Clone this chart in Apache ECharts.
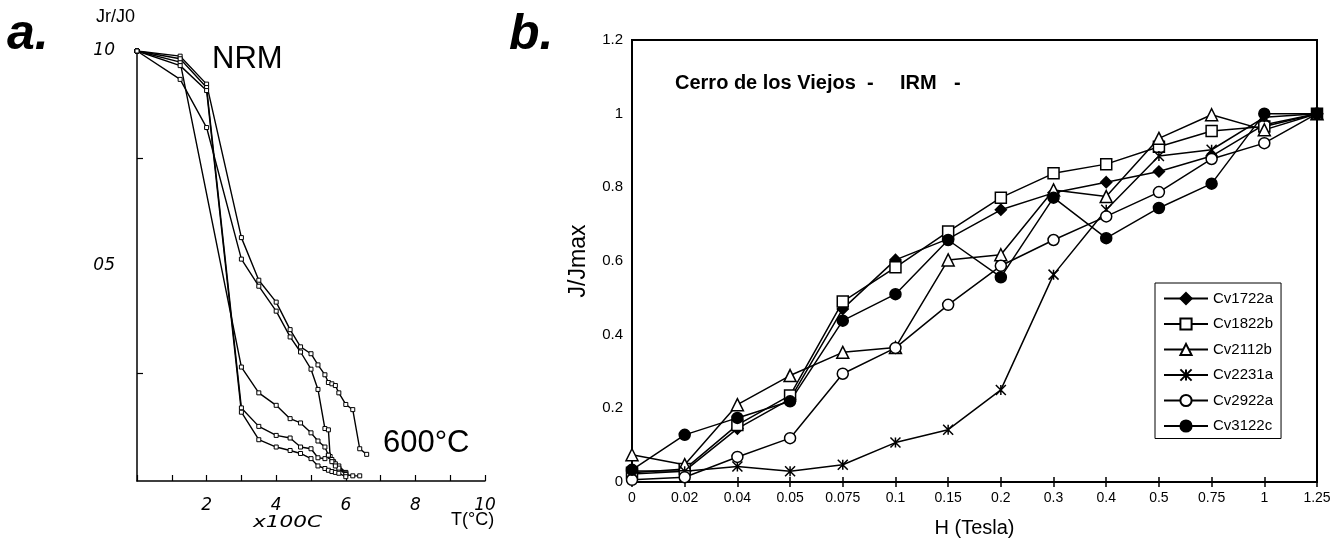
<!DOCTYPE html>
<html>
<head>
<meta charset="utf-8">
<script src="https://cdn.jsdelivr.net/npm/echarts@6/dist/echarts.min.js"></script>
<style>
html,body{margin:0;padding:0;background:#fff;}
#chart{width:1343px;height:547px;}
</style>
</head>
<body>
<div id="chart"></div>
<script>
// ---------- Panel a: thermal demagnetisation (T in x100 °C, Jr/J0) ----------
const aTempA = [0, 1.24, 2.0, 3.0, 3.5, 4.0, 4.4, 4.7, 5.0, 5.2, 5.4, 5.5, 5.6, 5.7, 5.8, 6.0, 6.2, 6.4, 6.6];
const aValA  = [1, 0.988, 0.923, 0.566, 0.467, 0.416, 0.352, 0.312, 0.296, 0.27, 0.247, 0.229, 0.226, 0.222, 0.205, 0.178, 0.166, 0.075, 0.062];
const aTempB = [0, 1.24, 2.0, 3.0, 3.5, 4.0, 4.4, 4.7, 5.0, 5.2, 5.4, 5.5, 5.55, 5.65, 5.8, 6.0];
const aValB  = [1, 0.934, 0.822, 0.516, 0.453, 0.395, 0.335, 0.30, 0.26, 0.213, 0.122, 0.119, 0.057, 0.045, 0.035, 0.02];
const aTempC = [0, 1.24, 3.0, 3.5, 4.0, 4.4, 4.7, 5.0, 5.2, 5.4, 5.5, 5.6, 5.7, 5.8, 6.0];
const aValC  = [1, 0.974, 0.265, 0.205, 0.176, 0.145, 0.135, 0.112, 0.093, 0.079, 0.06, 0.05, 0.04, 0.03, 0.018];
const aTempD = [0, 1.24, 2.0, 3.0, 3.5, 4.0, 4.4, 4.7, 5.0, 5.2, 5.4, 5.5, 5.6, 5.7, 6.0, 6.2, 6.4];
const aValD  = [1, 0.982, 0.915, 0.17, 0.127, 0.106, 0.10, 0.079, 0.075, 0.054, 0.052, 0.06, 0.045, 0.035, 0.015, 0.012, 0.012];
const aTempE = [0, 1.24, 2.0, 3.0, 3.5, 4.0, 4.4, 4.7, 5.0, 5.2, 5.4, 5.5, 5.6, 5.7, 5.8, 6.0];
const aValE  = [1, 0.966, 0.908, 0.16, 0.096, 0.079, 0.071, 0.064, 0.052, 0.035, 0.029, 0.025, 0.022, 0.02, 0.018, 0.01];

// ---------- Panel b: IRM acquisition ----------
const fields = ['0', '0.02', '0.04', '0.05', '0.075', '0.1', '0.15', '0.2', '0.3', '0.4', '0.5', '0.75', '1', '1.25'];
const cv1722a = [0.03, 0.03, 0.145, 0.225, 0.47, 0.603, 0.66, 0.739, 0.785, 0.814, 0.843, 0.885, 0.97, 1];
const cv1822b = [0.025, 0.035, 0.155, 0.235, 0.49, 0.583, 0.68, 0.772, 0.838, 0.863, 0.91, 0.953, 0.965, 1];
const cv2112b = [0.074, 0.047, 0.21, 0.289, 0.352, 0.365, 0.603, 0.617, 0.793, 0.775, 0.933, 0.997, 0.956, 1];
const cv2231a = [0.022, 0.029, 0.042, 0.029, 0.047, 0.107, 0.142, 0.25, 0.563, 0.739, 0.885, 0.902, 0.99, 1];
const cv2922a = [0.006, 0.013, 0.068, 0.119, 0.294, 0.364, 0.481, 0.587, 0.657, 0.721, 0.787, 0.877, 0.92, 1];
const cv3122c = [0.033, 0.128, 0.174, 0.219, 0.438, 0.51, 0.657, 0.556, 0.772, 0.662, 0.744, 0.81, 1.0, 1.0];
const yTicksB = [0, 0.2, 0.4, 0.6, 0.8, 1, 1.2];

const zip = (xs, ys) => xs.map((x, i) => [x, ys[i]]);
const FONT = '"Liberation Sans", Arial, sans-serif';
const ITAL = '"DejaVu Sans", sans-serif';

function aSeries(xs, ys) {
  return {
    type: 'line', xAxisIndex: 0, yAxisIndex: 0, data: zip(xs, ys),
    symbol: 'rect', symbolSize: 4, showSymbol: true,
    lineStyle: { color: '#000', width: 1.4 },
    itemStyle: { color: '#fff', borderColor: '#000', borderWidth: 1 },
    animation: false, silent: true
  };
}
const starPath = 'path://M0,0L10,10M10,0L0,10M5,0L5,10';
function bSeries(name, data, symbol, size, filled) {
  return {
    name, type: 'line', xAxisIndex: 1, yAxisIndex: 1, data,
    symbol, symbolSize: size, showSymbol: true,
    lineStyle: { color: '#000', width: 1.5 },
    itemStyle: { color: filled ? '#000' : '#fff', borderColor: '#000', borderWidth: 1.5 },
    animation: false
  };
}
const titleFont = 'bold 20px "Liberation Sans", Arial';

const chart = echarts.init(document.getElementById('chart'), null, { renderer: 'canvas' });
chart.setOption({
  backgroundColor: '#fff',
  animation: false,
  grid: [
    { left: 137, top: 51, width: 348, height: 430 },
    { left: 632, top: 40, right: 26, bottom: 65, show: true, borderColor: '#000', borderWidth: 2, backgroundColor: 'transparent' }
  ],
  xAxis: [
    { type: 'value', gridIndex: 0, min: 0, max: 10, interval: 1,
      axisLine: { lineStyle: { color: '#000', width: 1.5 } },
      axisTick: { inside: true, length: 6, lineStyle: { color: '#000', width: 1.2 } },
      axisLabel: { color: '#000', fontFamily: ITAL, fontStyle: 'italic', fontSize: 17, margin: 16,
        formatter: v => (v > 0 && v % 2 === 0) ? String(v) : '' },
      splitLine: { show: false } },
    { type: 'category', gridIndex: 1, data: fields, boundaryGap: false,
      axisLine: { lineStyle: { color: '#000', width: 2 } },
      axisTick: { length: 5, lineStyle: { color: '#000', width: 1.5 } },
      axisLabel: { color: '#000', fontFamily: FONT, fontSize: 14, margin: 9 },
      name: 'H (Tesla)', nameLocation: 'middle', nameGap: 36,
      nameTextStyle: { color: '#000', fontFamily: FONT, fontSize: 20 } },
    { type: 'category', gridIndex: 1, data: fields, boundaryGap: false, position: 'bottom',
      axisLine: { show: false }, axisLabel: { show: false },
      axisTick: { inside: true, length: 5, lineStyle: { color: '#000', width: 1.5 } } }
  ],
  yAxis: [
    { type: 'value', gridIndex: 0, min: 0, max: 1, interval: 0.25,
      axisLine: { lineStyle: { color: '#000', width: 1.5 } },
      axisTick: { inside: true, length: 6, lineStyle: { color: '#000', width: 1.2 },
        customValues: [0.25, 0.75] },
      axisLabel: { color: '#000', fontFamily: ITAL, fontStyle: 'italic', fontSize: 17, margin: 22,
        formatter: v => v === 1 ? '10' : (v === 0.5 ? '05' : '') },
      splitLine: { show: false } },
    { type: 'value', gridIndex: 1, min: 0, max: 1.2, interval: 0.2,
      axisLine: { lineStyle: { color: '#000', width: 2 } },
      axisTick: { length: 5, lineStyle: { color: '#000', width: 1.5 } },
      axisLabel: { color: '#000', fontFamily: FONT, fontSize: 15, margin: 9,
        formatter: v => { const m = yTicksB.find(t => Math.abs(t - v) < 1e-9); return m === undefined ? '' : String(m); } },
      splitLine: { show: false },
      name: 'J/Jmax', nameLocation: 'middle', nameGap: 42, nameRotate: 90,
      nameTextStyle: { color: '#000', fontFamily: FONT, fontSize: 23 } },
    { type: 'value', gridIndex: 1, min: 0, max: 1.2, interval: 0.2, position: 'left',
      axisLine: { show: false }, axisLabel: { show: false }, splitLine: { show: false },
      axisTick: { inside: true, length: 5, lineStyle: { color: '#000', width: 1.5 } } }
  ],
  legend: {
    data: ['Cv1722a', 'Cv1822b', 'Cv2112b', 'Cv2231a', 'Cv2922a', 'Cv3122c'],
    orient: 'vertical', left: 1155, top: 283,
    padding: [8, 8, 5, 8], itemGap: 10.5, itemWidth: 44, itemHeight: 14,
    borderColor: '#000', borderWidth: 1, backgroundColor: '#fff',
    textStyle: { color: '#000', fontFamily: FONT, fontSize: 15 }
  },
  series: [
    aSeries(aTempA, aValA), aSeries(aTempB, aValB), aSeries(aTempC, aValC),
    aSeries(aTempD, aValD), aSeries(aTempE, aValE),
    bSeries('Cv1722a', cv1722a, 'diamond', 11, true),
    bSeries('Cv1822b', cv1822b, 'rect', 11, false),
    bSeries('Cv2112b', cv2112b, 'triangle', 12, false),
    bSeries('Cv2231a', cv2231a, starPath, 10, true),
    bSeries('Cv2922a', cv2922a, 'circle', 11, false),
    bSeries('Cv3122c', cv3122c, 'circle', 11, true)
  ],
  graphic: [
    { type: 'text', left: 7, top: 10, style: { text: 'a.', font: 'italic bold 50px "Liberation Sans", Arial', fill: '#000' } },
    { type: 'text', left: 509, top: 10, style: { text: 'b.', font: 'italic bold 50px "Liberation Sans", Arial', fill: '#000' } },
    { type: 'text', left: 96, top: 8, style: { text: 'Jr/J0', font: '18px "Liberation Sans", Arial', fill: '#000' } },
    { type: 'text', left: 212, top: 44, style: { text: 'NRM', font: '31px "Liberation Sans", Arial', fill: '#000' } },
    { type: 'text', left: 383, top: 428, style: { text: '600°C', font: '31px "Liberation Sans", Arial', fill: '#000' } },
    { type: 'text', x: 253, y: 515, scaleX: 1.35, style: { text: 'x100C', x: 0, y: 0, font: 'italic 16px "DejaVu Sans", sans-serif', fill: '#000' } },
    { type: 'text', left: 451, top: 511, style: { text: 'T(°C)', font: '18px "Liberation Sans", Arial', fill: '#000' } },
    { type: 'text', left: 675, top: 73, style: { text: 'Cerro de los Viejos  -', font: titleFont, fill: '#000' } },
    { type: 'text', left: 900, top: 73, style: { text: 'IRM', font: titleFont, fill: '#000' } },
    { type: 'text', left: 954, top: 73, style: { text: '-', font: titleFont, fill: '#000' } }
  ]
});
</script>
</body>
</html>
